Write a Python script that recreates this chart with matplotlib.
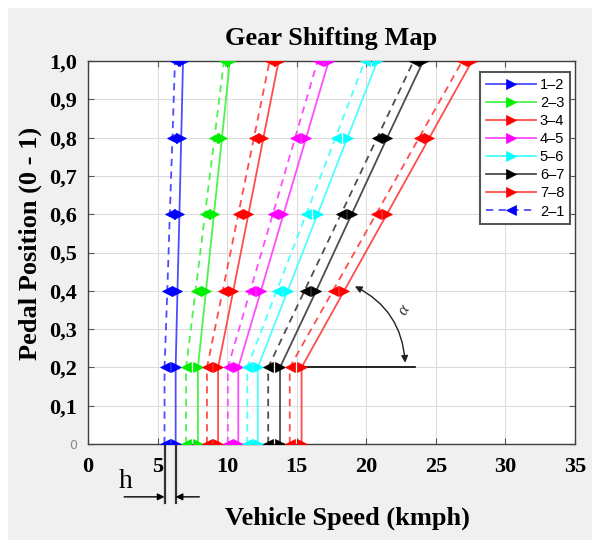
import matplotlib.pyplot as plt
import numpy as np
from matplotlib.patches import Rectangle, FancyArrowPatch
from matplotlib.colors import to_rgb

# pedal positions where shift points are given
pedal = [0.0, 0.2, 0.4, 0.6, 0.8, 1.0]

# upshift speeds (kmph)
up_12 = [6.3, 6.3, 6.43, 6.57, 6.7, 6.83]
up_23 = [7.9, 7.9, 8.48, 9.05, 9.63, 10.2]
up_34 = [9.35, 9.35, 10.44, 11.53, 12.61, 13.7]
up_45 = [10.8, 10.8, 12.43, 14.05, 15.68, 17.3]
up_56 = [12.2, 12.2, 14.35, 16.5, 18.65, 20.8]
up_67 = [13.8, 13.8, 16.4, 18.95, 21.5, 24.1]
up_78 = [15.35, 15.35, 18.41, 21.48, 24.54, 27.6]

# downshift speeds (kmph)
down_21 = [5.5, 5.5, 5.7, 5.88, 6.07, 6.25]
down_32 = [7.05, 7.05, 7.73, 8.41, 9.09, 9.77]
down_43 = [8.55, 8.55, 9.68, 10.8, 11.93, 13.05]
down_54 = [10.05, 10.05, 11.66, 13.28, 14.89, 16.5]
down_65 = [11.45, 11.45, 13.56, 15.68, 17.79, 19.9]
down_76 = [12.95, 12.95, 15.56, 18.18, 20.79, 23.4]
down_87 = [14.5, 14.5, 17.6, 20.7, 23.8, 26.9]

up_labels = ["1\u20132", "2\u20133", "3\u20134", "4\u20135", "5\u20136", "6\u20137", "7\u20138"]
up_speeds = [up_12, up_23, up_34, up_45, up_56, up_67, up_78]
down_speeds = [down_21, down_32, down_43, down_54, down_65, down_76, down_87]
colors = ["#0000ff", "#00ee00", "#ff0000", "#ff00ff", "#00ffff", "#000000", "#ff0000"]

xticks = [0, 5, 10, 15, 20, 25, 30, 35]
yticks = [0.0, 0.1, 0.2, 0.3, 0.4, 0.5, 0.6, 0.7, 0.8, 0.9, 1.0]
ytick_labels = ["0", "0,1", "0,2", "0,3", "0,4", "0,5", "0,6", "0,7", "0,8", "0,9", "1,0"]

SERIF = "Liberation Serif"
W, H = 598, 546


def light(c, f=0.3):
    r, g, b = to_rgb(c)
    return (r + (1 - r) * f, g + (1 - g) * f, b + (1 - b) * f)


fig = plt.figure(figsize=(W / 100, H / 100), dpi=100)
fig.patch.set_facecolor("white")
fig.patches.append(Rectangle((8 / W, 6 / H), 584 / W, 532 / H, transform=fig.transFigure,
                             facecolor="#f0f0f0", edgecolor="none", zorder=-10))

ax = fig.add_axes([88 / W, 1 - 444 / H, 487 / W, 383 / H])

for lab, xs, c in zip(up_labels, up_speeds, colors):
    ax.plot(xs, pedal, color=light(c), lw=1.3, marker=">", ms=7, mew=0.5,
            mfc=c, mec=c, label=lab, zorder=3)

for i, (xs, c) in enumerate(zip(down_speeds, colors)):
    ax.plot(xs, pedal, color=light(c), lw=1.3, ls=(0, (4, 3)), marker="<", ms=7, mew=0.5,
            mfc=c, mec=c, label="2\u20131" if i == 0 else "_nolegend_", zorder=3)

ax.set_xlim(0, 35)
ax.set_ylim(0, 1)
ax.set_xticks(xticks)
ax.set_xticklabels([str(t) for t in xticks], fontsize=16, fontweight="bold", family=SERIF)
ax.set_yticks(yticks)
ax.set_yticklabels(ytick_labels, fontsize=16, fontweight="bold", family=SERIF)
zero_lbl = ax.get_yticklabels()[0]
zero_lbl.set(fontsize=9, fontweight="normal", color="#888888", family="DejaVu Sans")
ax.tick_params(direction="in", top=True, right=True, length=4, color="#555555")
ax.tick_params(axis="x", pad=9)
ax.tick_params(axis="y", pad=8)
ax.grid(True, color="#dddddd", lw=0.8)
ax.set_axisbelow(True)
for s in ax.spines.values():
    s.set_color("#404040")
    s.set_linewidth(1.0)

leg = ax.legend(loc="upper right", bbox_to_anchor=(0.99, 0.971), borderaxespad=0,
                fancybox=False, framealpha=1, edgecolor="#555555",
                prop={"family": "Liberation Sans", "size": 10.5},
                handlelength=3.4, handletextpad=0.3, labelspacing=0.28,
                borderpad=0.4)
leg.get_frame().set_linewidth(1.5)

# angle annotation
ax.plot([15.35, 23.5], [0.2, 0.2], color="black", lw=1.2, zorder=2)
arc = FancyArrowPatch(posA=(19.0, 0.415), posB=(22.8, 0.205), connectionstyle="arc3,rad=-0.3",
                      arrowstyle="<|-|>", mutation_scale=10, color="#222222", lw=1.0)
ax.add_patch(arc)
ax.text(22.7, 0.35, "\u03b1", fontstyle="italic", fontsize=12, rotation=60,
        family=SERIF, color="#333333", ha="center", va="center")

# h annotation below axis
for xv in [5.5, 6.3]:
    ax.plot([xv, xv], [0, -0.155], color="#333333", lw=1.6, clip_on=False)
ax.annotate("", xy=(5.5, -0.138), xytext=(2.6, -0.138), annotation_clip=False,
            arrowprops=dict(arrowstyle="-|>", color="black", lw=1.0, shrinkA=0, shrinkB=0))
ax.annotate("", xy=(6.3, -0.138), xytext=(8.0, -0.138), annotation_clip=False,
            arrowprops=dict(arrowstyle="-|>", color="black", lw=1.0, shrinkA=0, shrinkB=0))
ax.text(2.73, -0.097, "h", ha="center", va="center", fontsize=20, family=SERIF, clip_on=False)

fig.text(331 / W, 1 - 38 / H, "Gear Shifting Map", ha="center", va="center",
         fontsize=19, fontweight="bold", family=SERIF)
fig.text(347 / W, 1 - 518 / H, "Vehicle Speed (kmph)", ha="center", va="center",
         fontsize=19, fontweight="bold", family=SERIF)
fig.text(30 / W, 1 - 243 / H, "Pedal Position (0 - 1)", ha="center", va="center",
         rotation=90, fontsize=19, fontweight="bold", family=SERIF)

fig.savefig("out.png", dpi=100)
